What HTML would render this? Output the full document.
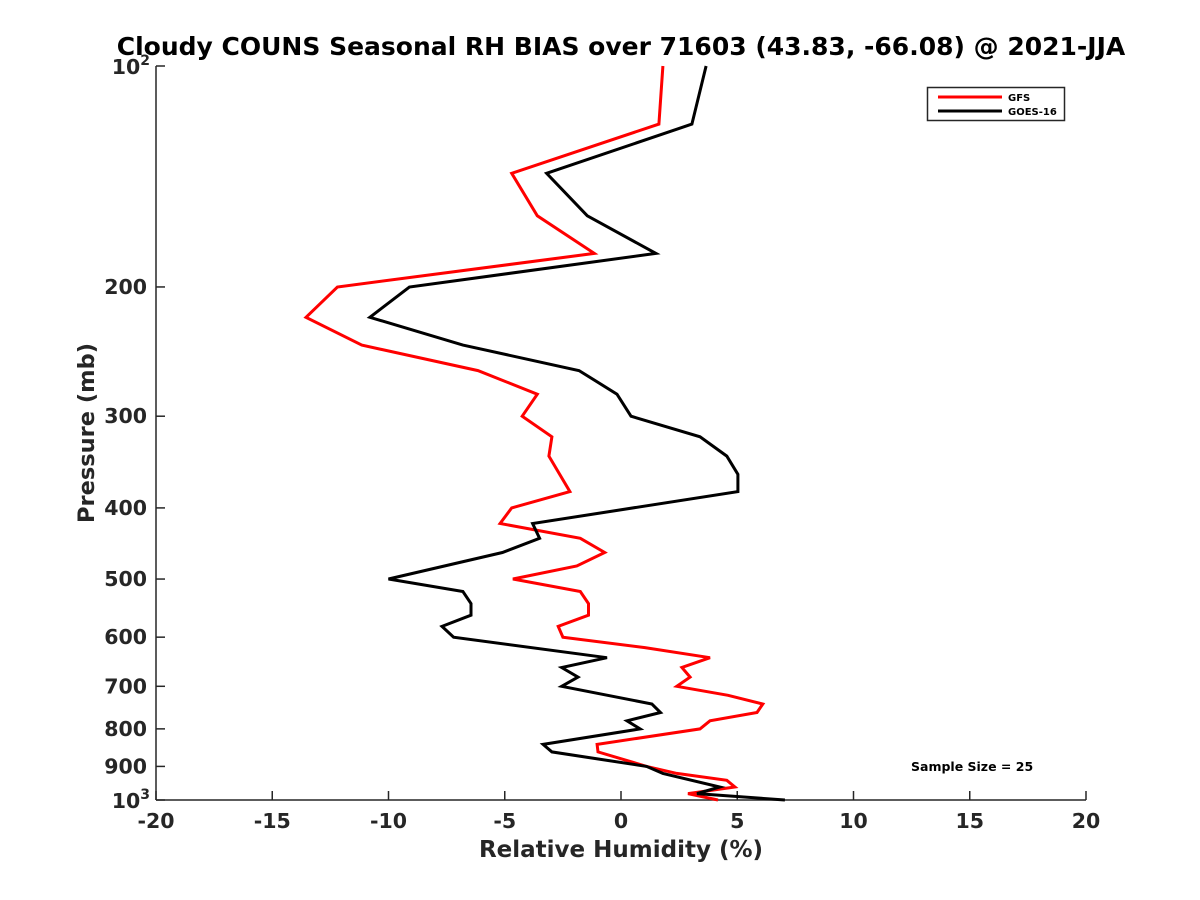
<!DOCTYPE html>
<html><head><meta charset="utf-8"><style>
body{margin:0;background:#fff;}
svg{display:block;font-family:"DejaVu Sans","Liberation Sans",sans-serif;font-weight:bold;}
</style></head><body>
<svg id="chart" width="1200" height="900" viewBox="0 0 1200 900">
<rect width="1200" height="900" fill="#fff"/>
<g id="axes"></g>
<g id="series"></g>
</svg>
<script>
const xTicks=[-20,-15,-10,-5,0,5,10,15,20];
const yTicks=[100,200,300,400,500,600,700,800,900,1000];
const gfsPressure=[100,120,140,160,180,200,220,240,260,280,300,320,340,380,400,420,440,460,480,500,520,540,560,580,600,620,640,660,680,700,720,740,760,780,800,840,860,900,920,940,960,980,1000];
const gfsValues=[1.8,1.63,-4.7,-3.6,-1.15,-12.2,-13.55,-11.15,-6.15,-3.6,-4.25,-2.97,-3.1,-2.2,-4.7,-5.2,-1.75,-0.7,-1.9,-4.65,-1.75,-1.4,-1.4,-2.7,-2.5,1.03,3.83,2.62,2.97,2.4,4.6,6.1,5.85,3.83,3.4,-1.03,-0.99,1.1,2.4,4.55,4.9,2.88,4.17];
const goesPressure=[100,120,140,160,180,200,220,240,260,280,300,320,340,360,380,420,440,460,500,520,540,560,580,600,640,660,680,700,740,760,780,800,840,860,900,920,960,980,1000];
const goesValues=[3.66,3.05,-3.2,-1.45,1.5,-9.1,-10.8,-6.8,-1.8,-0.17,0.43,3.4,4.55,5.03,5.03,-3.8,-3.5,-5.1,-10.0,-6.8,-6.45,-6.45,-7.7,-7.2,-0.6,-2.55,-1.85,-2.55,1.33,1.7,0.26,0.82,-3.35,-2.97,1.1,1.8,4.25,3.27,7.05];

const NS="http://www.w3.org/2000/svg";
const L=156,R=1086,T=66,B=800;
const xs=v=>L+(v+20)/40*(R-L);
const ys=p=>T+Math.log10(p/100)*(B-T);
function mk(tag,attrs,parent,text){const e=document.createElementNS(NS,tag);for(const k in attrs)e.setAttribute(k,attrs[k]);if(text!==undefined)e.textContent=text;parent.appendChild(e);return e;}
const ax=document.getElementById('axes');
const se=document.getElementById('series');
const C="#262626";
let e;
e=mk('line',{x1:L,y1:T,x2:L,y2:B,stroke:C,'stroke-width':1.5},ax);


e=mk('line',{x1:L,y1:B,x2:R,y2:B,stroke:C,'stroke-width':1.5},ax);


xTicks.forEach(v=>{
  const x=xs(v);
  e=mk('line',{x1:x,y1:B,x2:x,y2:B-9,stroke:C,'stroke-width':1.5},ax);
  
  
  e=mk('text',{x:x,y:828,'text-anchor':'middle','font-size':20.5,fill:C},ax,String(v));
  
  
});
yTicks.forEach(p=>{
  const y=ys(p);
  e=mk('line',{x1:L,y1:y,x2:L+9,y2:y,stroke:C,'stroke-width':1.5},ax);
  
  
  if(p===100||p===1000){
    e=mk('text',{x:L-6,y:y+8,'text-anchor':'end','font-size':20.5,fill:C},ax);
    
    
    mk('tspan',{},e,'10');
    mk('tspan',{dy:-9,'font-size':14},e,p===100?'2':'3');
  }else{
    e=mk('text',{x:L-9,y:y+7,'text-anchor':'end','font-size':20.5,fill:C},ax,String(p));
    
    
  }
});
e=mk('text',{x:621,y:55,'text-anchor':'middle','font-size':25,fill:'#000'},ax,'Cloudy COUNS Seasonal RH BIAS over 71603 (43.83, -66.08) @ 2021-JJA');


e=mk('text',{x:621,y:857,'text-anchor':'middle','font-size':23,fill:C},ax,'Relative Humidity (%)');


e=mk('text',{x:0,y:0,'text-anchor':'middle','font-size':22.5,fill:C,transform:'translate(94,433) rotate(-90)'},ax,'Pressure (mb)');


e=mk('text',{x:911,y:771,'font-size':12.5,fill:'#000'},ax,'Sample Size = 25');



function line(vals,pres,color,name){
  const pts=vals.map((v,i)=>xs(v).toFixed(1)+','+ys(pres[i]).toFixed(1)).join(' ');
  const p=mk('polyline',{points:pts,fill:'none',stroke:color,'stroke-width':3,'stroke-linejoin':'miter'},se);
  
  
}
line(gfsValues,gfsPressure,'#ff0000','gfs-line');
line(goesValues,goesPressure,'#000000','goes16-line');

const lg=mk('g',{},ax);


mk('rect',{x:927.5,y:87.5,width:137,height:33,fill:'#fff',stroke:'#262626','stroke-width':1.5},lg);
e=mk('line',{x1:938,y1:97,x2:1002,y2:97,stroke:'#ff0000','stroke-width':3},lg);


mk('text',{x:1008,y:101,'font-size':10,fill:'#000'},lg,'GFS');
e=mk('line',{x1:938,y1:111,x2:1002,y2:111,stroke:'#000','stroke-width':3},lg);


mk('text',{x:1008,y:115,'font-size':10,fill:'#000'},lg,'GOES-16');
</script>
</body></html>
